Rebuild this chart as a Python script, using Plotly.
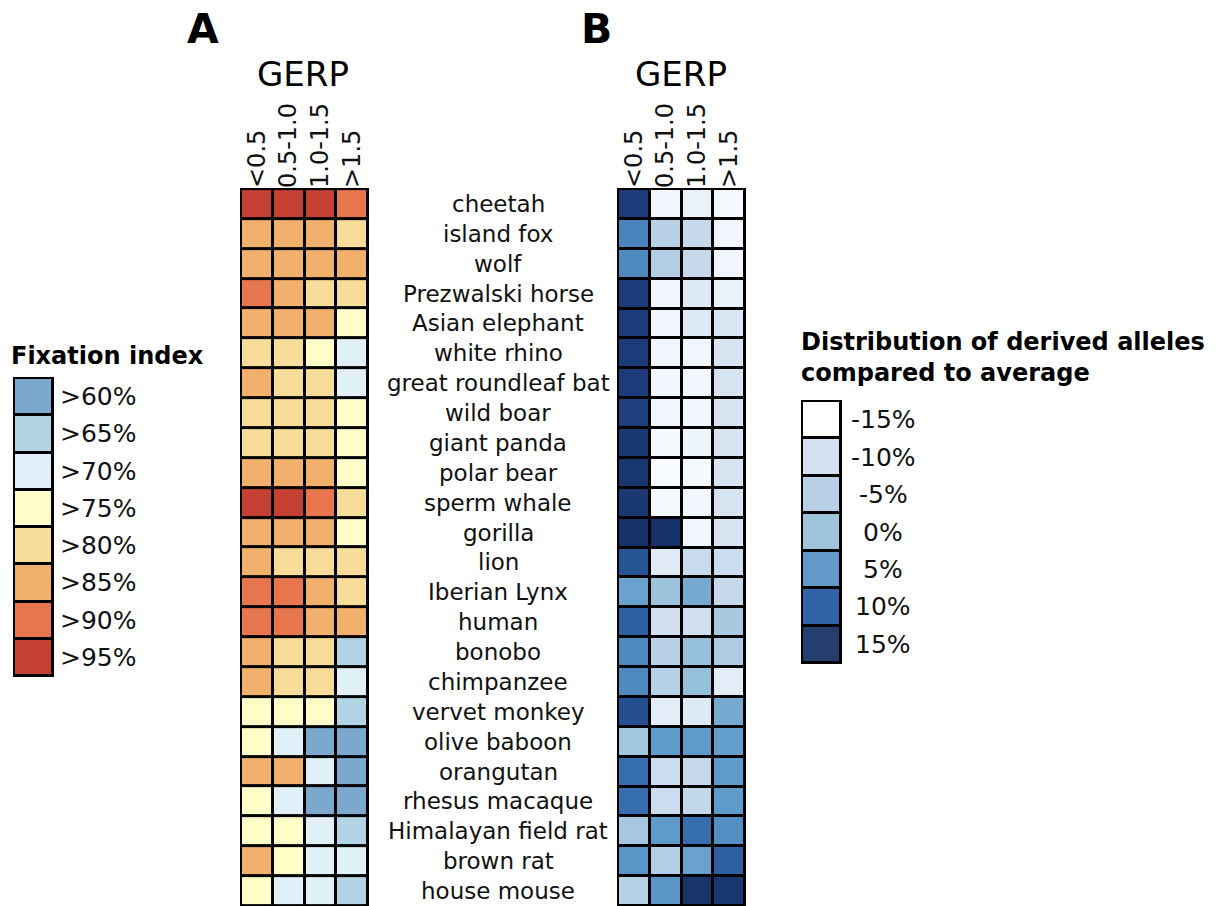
import plotly.graph_objects as go

# ---- data -------------------------------------------------------------
species = [
    "cheetah", "island fox", "wolf", "Prezwalski horse", "Asian elephant",
    "white rhino", "great roundleaf bat", "wild boar", "giant panda",
    "polar bear", "sperm whale", "gorilla", "lion", "Iberian Lynx", "human",
    "bonobo", "chimpanzee", "vervet monkey", "olive baboon", "orangutan",
    "rhesus macaque", "Himalayan field rat", "brown rat", "house mouse",
]
gerp_bins = ["<0.5", "0.5-1.0", "1.0-1.5", ">1.5"]

# Fixation index class (lower bound, %) per species and GERP bin
fixation = [
    [95, 95, 95, 90], [85, 85, 85, 80], [85, 85, 85, 85], [90, 85, 80, 80],
    [85, 85, 85, 75], [80, 80, 75, 70], [85, 80, 80, 70], [80, 80, 80, 75],
    [80, 80, 80, 75], [85, 85, 85, 75], [95, 95, 90, 80], [85, 85, 85, 75],
    [85, 80, 80, 80], [90, 90, 85, 80], [90, 90, 85, 85], [85, 80, 80, 65],
    [85, 80, 80, 70], [75, 75, 75, 65], [75, 70, 60, 60], [85, 85, 70, 60],
    [75, 70, 60, 60], [75, 75, 70, 65], [85, 75, 70, 70], [75, 70, 70, 65],
]

# Derived-allele distribution relative to average (%)
derived = [
    [16, -14, -13, -14.5], [7, -5, -7, -14], [6.5, -4, -7, -14],
    [16, -14, -11, -13], [16, -14, -11, -10.5], [16, -14, -14, -10],
    [16, -14, -14, -10], [15.5, -14, -14, -10], [16.5, -14.5, -13.5, -10],
    [17, -15, -14.5, -10], [16.5, -14.5, -14, -10], [18, 18, -14, -10],
    [12, -11.5, -7.5, -8], [4, 0, 3, -7], [10.5, -9, -9, -2],
    [6.5, -5, 0.5, -3], [6.5, -4.5, 0.5, -12], [13, -12, -11, 3],
    [-1, 5, 5, 4.5], [9, -8, -7, 5], [9, -8, -6.5, 5],
    [-1.5, 5, 9, 6], [5.5, -4, 4, 10.5], [-4.5, 5.5, 17.5, 17],
]

fix_levels = [60, 65, 70, 75, 80, 85, 90, 95]
fix_labels = [">60%", ">65%", ">70%", ">75%", ">80%", ">85%", ">90%", ">95%"]
fix_colors = ["#7ba8cc", "#b2d5e6", "#e1f0f8", "#fefdc8",
              "#f8dd9a", "#f2b06d", "#e7764f", "#c44133"]

der_levels = [-15, -10, -5, 0, 5, 10, 15]
der_labels = ["-15%", "-10%", "-5%", "0%", "5%", "10%", "15%"]
der_colors = ["#ffffff", "#d2e0ef", "#b8d0e5", "#9ec4db",
              "#6199c8", "#2f62a6", "#233e6f"]

# ---- helpers ----------------------------------------------------------
W, H = 1228, 906
FONT = "DejaVu Sans"


def fx(p):
    return p / W


def fy(p):
    return 1 - p / H


fix_idx = [[fix_levels.index(v) for v in row] for row in fixation]
fix_scale = [[i / (len(fix_colors) - 1), c] for i, c in enumerate(fix_colors)]

der_scale_stops = [(-15, "#f7fbff"), (-10, "#d6e4f2"), (-5, "#b9d1e6"),
                   (0, "#9cc3dc"), (5, "#5e9aca"), (10, "#2d63a7"),
                   (15, "#1e4280"), (19, "#132b5e")]
zmin_b, zmax_b = der_scale_stops[0][0], der_scale_stops[-1][0]
der_scale = [[(v - zmin_b) / (zmax_b - zmin_b), c] for v, c in der_scale_stops]

fig = go.Figure()

# Panel A heatmap
fig.add_trace(go.Heatmap(
    z=fix_idx, x=gerp_bins, y=species, colorscale=fix_scale,
    zmin=0, zmax=len(fix_colors) - 1, showscale=False,
    xgap=3, ygap=3, hoverinfo="skip", xaxis="x", yaxis="y"))

# Panel B heatmap
fig.add_trace(go.Heatmap(
    z=derived, x=gerp_bins, y=species, colorscale=der_scale,
    zmin=zmin_b, zmax=zmax_b, showscale=False,
    xgap=3, ygap=3, hoverinfo="skip", xaxis="x2", yaxis="y2"))

# Legend swatches for panel A
fig.add_trace(go.Heatmap(
    z=[[i] for i in range(len(fix_labels))], x=[0], y=fix_labels,
    colorscale=fix_scale, zmin=0, zmax=len(fix_colors) - 1,
    showscale=False, xgap=3, ygap=3, hoverinfo="skip",
    xaxis="x3", yaxis="y3"))

# Legend swatches for panel B
der_leg_scale = [[i / (len(der_colors) - 1), c] for i, c in enumerate(der_colors)]
fig.add_trace(go.Heatmap(
    z=[[i] for i in range(len(der_labels))], x=[0], y=der_labels,
    colorscale=der_leg_scale, zmin=0, zmax=len(der_colors) - 1,
    showscale=False, xgap=3, ygap=3, hoverinfo="skip",
    xaxis="x4", yaxis="y4"))

hidden = dict(showgrid=False, zeroline=False, showticklabels=False,
              ticks="", showline=False, fixedrange=True)
col_axis = dict(showgrid=False, zeroline=False, ticks="", showline=False,
                side="top", tickangle=-90,
                tickfont=dict(family=FONT, size=24, color="#111"),
                range=[-0.5, 3.5], fixedrange=True)

fig.update_layout(
    width=W, height=H,
    margin=dict(l=0, r=0, t=0, b=0),
    paper_bgcolor="white", plot_bgcolor="black",
    showlegend=False,
    font=dict(family=FONT, color="#111"),
    xaxis=dict(domain=[fx(241), fx(368)], anchor="y", **col_axis),
    yaxis=dict(domain=[fy(906), fy(189)], anchor="x",
               autorange="reversed", **hidden),
    xaxis2=dict(domain=[fx(618), fx(745)], anchor="y2", **col_axis),
    yaxis2=dict(domain=[fy(906), fy(189)], anchor="x2",
                autorange="reversed", **hidden),
    xaxis3=dict(domain=[fx(14), fx(53)], anchor="y3",
                range=[-0.5, 0.5], **hidden),
    yaxis3=dict(domain=[fy(676), fy(378)], anchor="x3",
                autorange="reversed", **hidden),
    xaxis4=dict(domain=[fx(802), fx(841)], anchor="y4",
                range=[-0.5, 0.5], **hidden),
    yaxis4=dict(domain=[fy(663), fy(401)], anchor="x4",
                autorange="reversed", **hidden),
)

# outer frames
for xr, yr in [("x", "y"), ("x2", "y2"), ("x3", "y3"), ("x4", "y4")]:
    fig.add_shape(type="rect", xref=f"{xr} domain", yref=f"{yr} domain",
                  x0=0, x1=1, y0=0, y1=1,
                  line=dict(color="black", width=2))

annotations = []
# species names between the two panels
for name in species:
    annotations.append(dict(x=fx(498), y=name, xref="paper", yref="y",
                            text=name, showarrow=False, xanchor="center",
                            yanchor="middle",
                            font=dict(family=FONT, size=23, color="#111")))
# legend labels
for lab in fix_labels:
    annotations.append(dict(x=fx(58), y=lab, xref="paper", yref="y3",
                            text=lab, showarrow=False, xanchor="left",
                            yanchor="middle",
                            font=dict(family=FONT, size=25, color="#111")))
for lab in der_labels:
    annotations.append(dict(x=fx(883), y=lab, xref="paper", yref="y4",
                            text=lab, showarrow=False, xanchor="center",
                            yanchor="middle",
                            font=dict(family=FONT, size=25, color="#111")))
# titles
annotations += [
    dict(x=fx(203), y=fy(29), xref="paper", yref="paper", text="<b>A</b>",
         showarrow=False, xanchor="center", yanchor="middle",
         font=dict(family=FONT, size=41, color="black")),
    dict(x=fx(596), y=fy(29), xref="paper", yref="paper", text="<b>B</b>",
         showarrow=False, xanchor="center", yanchor="middle",
         font=dict(family=FONT, size=41, color="black")),
    dict(x=fx(303), y=fy(74), xref="paper", yref="paper", text="GERP",
         showarrow=False, xanchor="center", yanchor="middle",
         font=dict(family=FONT, size=34, color="black")),
    dict(x=fx(681), y=fy(74), xref="paper", yref="paper", text="GERP",
         showarrow=False, xanchor="center", yanchor="middle",
         font=dict(family=FONT, size=34, color="black")),
    dict(x=fx(9), y=fy(356), xref="paper", yref="paper",
         text="<b>Fixation index</b>", showarrow=False, xanchor="left",
         yanchor="middle",
         font=dict(family=FONT, size=24, color="black")),
    dict(x=fx(799), y=fy(357), xref="paper", yref="paper",
         text="<b>Distribution of derived alleles</b><br><b>compared to average</b>",
         showarrow=False, xanchor="left", align="left", yanchor="middle",
         font=dict(family=FONT, size=24, color="black")),
]
fig.update_layout(annotations=annotations)

fig.write_html("out.html")
